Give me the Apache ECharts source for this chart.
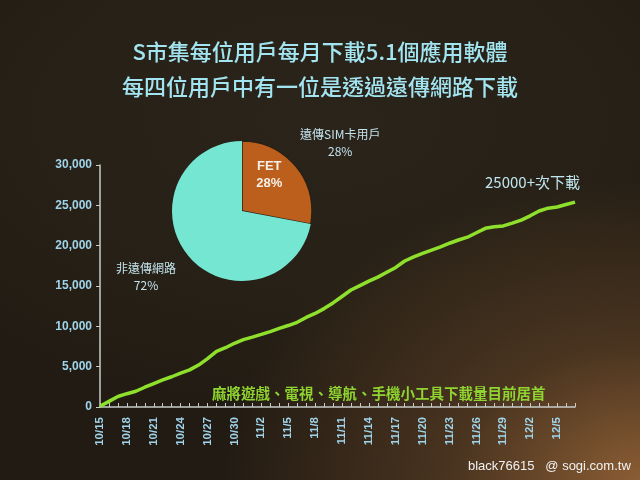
<!DOCTYPE html>
<html><head><meta charset="utf-8">
<script src="https://cdn.jsdelivr.net/npm/echarts@6/dist/echarts.min.js"></script>
<style>
html,body{margin:0;padding:0;width:640px;height:480px;overflow:hidden;}
#c{width:640px;height:480px;
background:
 radial-gradient(ellipse 420px 300px at 640px 480px, rgba(150,100,55,0.9) 0%, rgba(105,72,42,0.55) 45%, rgba(42,34,24,0) 100%),
 radial-gradient(ellipse 500px 300px at 320px 120px, #2a241b 0%, #272016 60%, #221b13 100%);}
</style></head>
<body><div id="c"></div>
<script>
const titleLines = ['S市集每位用戶每月下載5.1個應用軟體', '每四位用戶中有一位是透過遠傳網路下載'];
const dates = ['10/15','10/16','10/17','10/18','10/19','10/20','10/21','10/22','10/23','10/24','10/25','10/26','10/27','10/28','10/29','10/30','10/31',
 '11/1','11/2','11/3','11/4','11/5','11/6','11/7','11/8','11/9','11/10','11/11','11/12','11/13','11/14','11/15','11/16','11/17','11/18','11/19','11/20',
 '11/21','11/22','11/23','11/24','11/25','11/26','11/27','11/28','11/29','11/30','12/1','12/2','12/3','12/4','12/5','12/6','12/7'];
const downloads = [100,700,1300,1650,1950,2450,2900,3350,3750,4200,4600,5200,6000,6900,7350,7900,8350,
 8670,9000,9350,9750,10100,10500,11100,11600,12200,12900,13700,14500,15050,15600,16100,16700,17300,18100,18600,19050,
 19450,19850,20300,20700,21050,21600,22150,22350,22450,22800,23170,23700,24300,24650,24800,25100,25400];
const yTicks = {min:0, max:30000, interval:5000};
const pieNames = ['FET','非遠傳網路'];
const pieValues = [28, 72];
const pieOuterLabels = ['遠傳SIM卡用戶', '非遠傳網路'];
const lineNote = '25000+次下載';
const bottomNote = '麻將遊戲、電視、導航、手機小工具下載量目前居首';
const watermark = 'black76615   @ sogi.com.tw';

const numFont = "'Liberation Sans','Noto Sans CJK TC',sans-serif";
const cjkFont = "'Noto Sans CJK TC','Liberation Sans',sans-serif";
const chart = echarts.init(document.getElementById('c'));
chart.setOption({
  backgroundColor: 'transparent',
  animation: false,
  title: {
    text: titleLines.join('\n'), left: 'center', top: 29,
    textStyle: {color:'#a2e4f0', fontSize:22, lineHeight:35, fontWeight:500, fontFamily: cjkFont}
  },
  grid: {left: 100, right: 65, top: 165, bottom: 73},
  xAxis: {
    type:'category', data: dates, boundaryGap:false,
    axisLine:{lineStyle:{color:'#c8ccc8', width:1.5}},
    axisTick:{inside:true, length:4, interval:0, lineStyle:{color:'#c8ccc8'}},
    axisLabel:{interval:2, rotate:90, color:'#9fd4ea', fontSize:11.5, fontWeight:'bold', fontFamily:numFont, margin:10}
  },
  yAxis: {
    type:'value', min:yTicks.min, max:yTicks.max, interval:yTicks.interval,
    splitLine:{show:false},
    axisLine:{show:true, lineStyle:{color:'#c8ccc8', width:1.5}},
    axisTick:{show:true, length:4, lineStyle:{color:'#c8ccc8'}},
    axisLabel:{color:'#9fd4ea', fontSize:12, fontWeight:'bold', fontFamily:numFont, margin:8,
      formatter: v => v.toLocaleString('en-US')}
  },
  series: [
    {type:'line', data: downloads, symbol:'none', smooth:false,
     lineStyle:{color:'#8ee02c', width:3.5}, z:3},
    {type:'pie', center:[242,211], radius:70, startAngle:90, clockwise:true,
     label:{show:false}, labelLine:{show:false}, z:5,
     data: pieNames.map((n,i)=>({
       name:n, value:pieValues[i],
       itemStyle: i===0 ? {color:'#bd5f1c', borderColor:'#2a2116', borderWidth:1.5} : {color:'#74e6d2'},
       label: i===0 ? {show:true, position:'inside', formatter:'{b}\n{c}%', color:'#f4f0e8',
         fontSize:13, fontWeight:'bold', fontFamily:numFont, lineHeight:17, offset:[-2,-12]} : {show:false}
     }))}
  ],
  graphic: [
    {type:'text', left:300, top:126, style:{text: pieOuterLabels[0] + '\n' + pieValues[0] + '%', textAlign:'center',
      x:42, fill:'#c2e2ec', font:"12px 'Noto Sans CJK TC','Liberation Sans',sans-serif", lineHeight:17}},
    {type:'text', left:116, top:260, style:{text: pieOuterLabels[1] + '\n' + pieValues[1] + '%', textAlign:'center',
      x:32, fill:'#c2e2ec', font:"12px 'Noto Sans CJK TC','Liberation Sans',sans-serif", lineHeight:17}},
    {type:'text', left:485, top:175, style:{text: lineNote, fill:'#bfe6ee', font:"15px 'Noto Sans CJK TC','Liberation Sans',sans-serif"}},
    {type:'text', left:212, top:386, style:{text: bottomNote, fill:'#8fd430', font:"bold 14.5px 'Noto Sans CJK TC',sans-serif"}},
    {type:'text', left:468, top:460, style:{text: watermark, fill:'#f2f2f2', font:"13px 'Liberation Sans',sans-serif"}}
  ]
});
</script></body></html>
